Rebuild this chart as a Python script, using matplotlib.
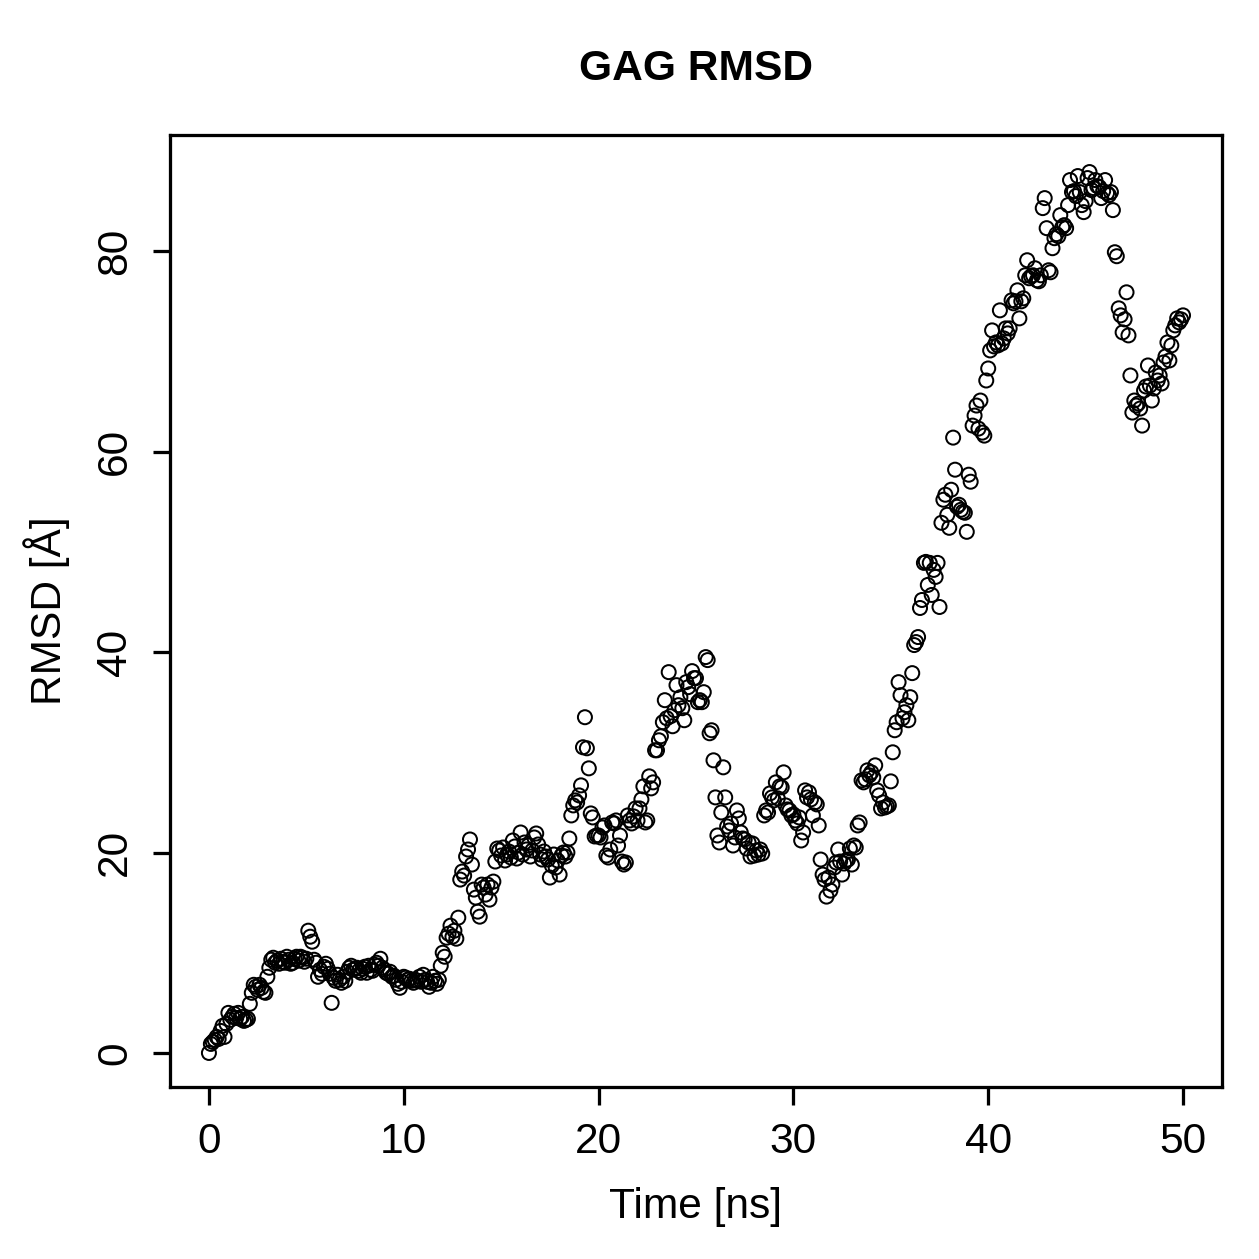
import numpy as np
import matplotlib
matplotlib.use("Agg")
import matplotlib.pyplot as plt

plt.rcParams['font.family'] = ['Liberation Sans', 'DejaVu Sans']

# RMSD values, one every 0.1 ns (rows = 1 ns each)
rmsd = [
    0.0, 0.9, 1.1, 1.3, 1.6, 1.4, 2.2, 2.7, 1.6, 2.9,
    4.0, 3.3, 3.6, 3.9, 3.5, 4.0, 3.4, 3.6, 3.2, 3.3,
    3.4, 4.9, 6.0, 6.8, 6.6, 6.3, 6.8, 6.5, 6.1, 6.0,
    7.6, 8.5, 9.3, 9.5, 9.0, 9.2, 8.9, 9.4, 9.1, 9.0,
    9.6, 9.3, 8.9, 9.0, 9.4, 9.6, 9.2, 9.6, 9.5, 9.1,
    9.4, 12.2, 11.6, 11.1, 9.3, 9.0, 7.6, 8.3, 7.9, 8.6,
    8.9, 8.4, 7.9, 5.0, 7.5, 7.2, 7.8, 7.3, 7.0, 7.6,
    7.2, 8.1, 8.5, 8.7, 8.3, 8.4, 8.5, 8.2, 8.0, 8.4,
    8.6, 8.0, 8.7, 8.3, 8.2, 8.8, 9.0, 8.7, 9.4, 8.5,
    8.3, 8.0, 7.9, 8.1, 7.6, 7.7, 7.3, 6.9, 6.5, 7.1,
    7.6, 7.5, 7.3, 7.4, 7.2, 7.0, 7.3, 7.2, 7.6, 7.1,
    7.8, 7.3, 7.1, 6.6, 7.0, 7.6, 7.2, 6.9, 7.3, 8.7,
    10.0, 9.6, 11.5, 11.9, 12.7, 11.6, 12.2, 11.4, 13.5, 17.3,
    18.1, 17.7, 19.6, 20.3, 21.3, 18.8, 16.3, 15.5, 14.1, 13.6,
    16.8, 16.5, 15.8, 16.8, 15.3, 16.5, 17.1, 19.1, 20.4, 20.2,
    19.7, 20.5, 19.2, 19.8, 20.1, 19.5, 21.2, 20.6, 19.4, 20.0,
    22.0, 19.8, 21.0, 20.3, 20.7, 19.6, 20.2, 21.5, 21.9, 20.8,
    19.8, 19.3, 20.1, 19.6, 19.3, 17.5, 18.7, 19.8, 18.5, 19.2,
    17.8, 19.7, 20.0, 19.6, 20.0, 21.4, 23.7, 24.7, 25.2, 25.0,
    25.7, 26.7, 30.5, 33.5, 30.4, 28.4, 23.9, 23.5, 21.6, 21.7,
    21.7, 21.5, 22.5, 22.7, 19.7, 19.5, 20.3, 23.0, 22.9, 23.2,
    20.7, 21.7, 19.1, 18.8, 19.0, 23.7, 23.2, 22.9, 23.6, 24.4,
    23.2, 24.4, 25.3, 26.6, 23.0, 23.2, 27.6, 26.4, 27.0, 30.2,
    30.2, 31.2, 31.6, 33.0, 35.2, 33.4, 38.0, 33.6, 32.6, 34.2,
    36.7, 34.7, 35.5, 34.4, 33.2, 37.0, 36.5, 35.8, 38.1, 37.4,
    37.4, 35.0, 35.2, 35.0, 36.0, 39.5, 39.2, 31.9, 32.2, 29.2,
    25.5, 21.7, 21.0, 24.0, 28.5, 25.5, 22.6, 22.2, 22.9, 20.7,
    21.5, 24.2, 23.4, 22.0, 21.4, 21.3, 20.4, 21.0, 19.6, 20.9,
    19.7, 20.2, 19.8, 20.3, 19.9, 23.7, 24.2, 24.0, 25.9, 25.5,
    25.2, 27.0, 25.4, 26.6, 26.5, 28.0, 24.7, 24.3, 24.2, 23.7,
    23.8, 23.2, 22.9, 23.5, 21.2, 22.0, 26.2, 25.5, 26.0, 25.3,
    23.7, 25.0, 24.8, 22.7, 19.3, 17.8, 17.3, 15.6, 17.5, 16.2,
    16.8, 18.5, 19.0, 20.3, 19.1, 17.8, 18.9, 19.2, 19.3, 20.4,
    18.8, 20.7, 20.5, 22.7, 23.0, 27.2, 27.0, 27.3, 28.2, 27.7,
    28.0, 27.5, 28.7, 26.2, 25.7, 24.4, 25.0, 24.5, 24.6, 24.7,
    27.1, 30.0, 32.2, 33.0, 37.0, 35.7, 33.4, 34.0, 34.7, 33.2,
    35.5, 37.9, 40.7, 41.0, 41.5, 44.4, 45.2, 48.9, 49.0, 46.7,
    48.9, 45.7, 48.2, 47.5, 48.9, 44.5, 52.9, 55.2, 55.7, 53.7,
    52.4, 56.2, 61.4, 58.2, 54.5, 54.7, 54.2, 54.0, 53.9, 52.0,
    57.7, 57.0, 62.6, 63.6, 64.6, 62.3, 65.1, 61.9, 61.6, 67.1,
    68.3, 70.1, 72.1, 70.5, 70.9, 70.6, 74.1, 70.8, 71.3, 72.3,
    71.8, 72.3, 75.1, 74.8, 75.0, 76.1, 73.3, 75.0, 75.3, 77.6,
    79.1, 77.3, 77.5, 77.6, 78.3, 77.1, 77.0, 77.6, 84.3, 85.3,
    82.3, 78.1, 77.9, 80.3, 81.3, 81.7, 81.5, 83.6, 82.4, 82.6,
    82.3, 84.6, 87.1, 85.9, 86.0, 85.5, 87.5, 85.9, 84.6, 83.9,
    85.0, 87.3, 87.9, 86.1, 86.3, 87.1, 86.5, 86.4, 85.3, 86.0,
    87.1, 85.8, 85.6, 85.9, 84.1, 79.9, 79.5, 74.3, 73.6, 71.9,
    73.2, 75.9, 71.6, 67.6, 63.9, 65.1, 64.6, 64.8, 64.3, 62.6,
    66.1, 66.5, 68.6, 66.6, 65.1, 66.3, 67.9, 67.1, 67.6, 66.8,
    68.9, 69.5, 70.9, 69.1, 70.6, 72.1, 72.6, 73.3, 72.9, 73.2,
    73.6,
]
time_ns = np.arange(len(rmsd)) * 0.1

x_ticks = [0, 10, 20, 30, 40, 50]
y_ticks = [0, 20, 40, 60, 80]

dpi = 180
fig = plt.figure(figsize=(1259 / dpi, 1259 / dpi), dpi=dpi)
ax = fig.add_axes([0.135, 0.1366, 0.8356, 0.7562])

ax.scatter(time_ns, rmsd, s=5.6 ** 2, facecolors='none', edgecolors='black', linewidths=0.8)

ax.set_xlim(-2, 52)
ax.set_ylim(-3.4, 91.6)
ax.set_xticks(x_ticks)
ax.set_yticks(y_ticks)
ax.set_xticklabels([str(v) for v in x_ticks], fontsize=17)
ax.set_yticklabels([str(v) for v in y_ticks], fontsize=17, rotation=90, va='center')
ax.tick_params(direction='out', length=7, width=1.3, pad=7)

for sp in ax.spines.values():
    sp.set_linewidth(1.3)

ax.set_xlabel('Time [ns]', fontsize=17, labelpad=10)
ax.set_ylabel('RMSD [Å]', fontsize=17, labelpad=10)
ax.set_title('GAG RMSD', fontsize=17, fontweight='bold', pad=22)

fig.savefig('out.png', dpi=dpi)
